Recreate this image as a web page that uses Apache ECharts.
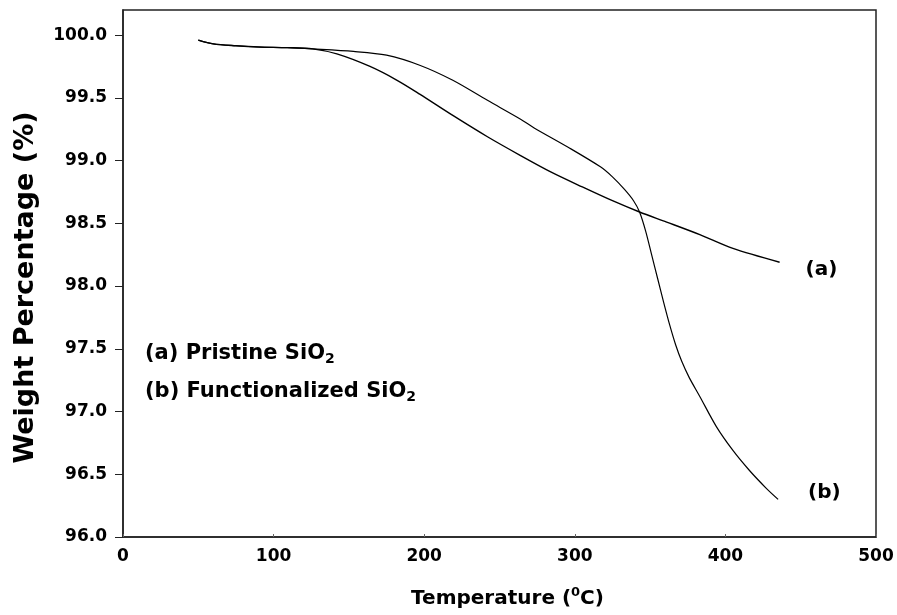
<!DOCTYPE html>
<html>
<head>
    <meta charset="utf-8">
    <title>TGA SiO2</title>
    <script src="https://cdn.jsdelivr.net/npm/echarts@6/dist/echarts.min.js"></script>
</head>
<body style="margin:0">
    <div id="main" style="width: 897px; height: 615px;"></div>

    <script>
        // (a) Pristine SiO2
        var tempA = [50, 60, 75, 90, 109, 126, 142, 164, 182, 197, 219, 242, 264, 284, 305, 325, 343, 361, 383, 405, 436];
        var weightA = [99.96, 99.93, 99.915, 99.905, 99.90, 99.89, 99.85, 99.75, 99.64, 99.53, 99.36, 99.19, 99.04, 98.91, 98.79, 98.68, 98.59, 98.51, 98.41, 98.30, 98.19];

        // (b) Functionalized SiO2
        var tempB = [50, 60, 75, 90, 109, 126, 153, 175, 197, 219, 242, 264, 273, 295, 317, 325, 333, 339, 343, 347, 351, 355, 359, 363, 367, 371, 376, 383, 394, 405, 416, 427, 435];
        var weightB = [99.96, 99.93, 99.915, 99.905, 99.90, 99.89, 99.87, 99.84, 99.76, 99.64, 99.48, 99.33, 99.26, 99.11, 98.95, 98.87, 98.77, 98.68, 98.59, 98.44, 98.25, 98.06, 97.87, 97.69, 97.53, 97.40, 97.27, 97.12, 96.88, 96.69, 96.53, 96.39, 96.30];

        // 刻度
        var yTicks = [96.0, 96.5, 97.0, 97.5, 98.0, 98.5, 99.0, 99.5, 100.0];
        var xTicks = [0, 100, 200, 300, 400, 500];

        var font = 'DejaVu Sans';

        function pairs(xs, ys) {
            var out = [];
            for (var i = 0; i < xs.length; i++) {
                out.push([xs[i], ys[i]]);
            }
            return out;
        }

        var myChart = echarts.init(document.getElementById('main'));

        var option = {
            animation: false,
            backgroundColor: '#fff',
            grid: {
                left: 123,
                right: 21,
                top: 10,
                bottom: 78,
                show: true,
                borderColor: '#222',
                borderWidth: 1.5
            },
            xAxis: {
                type: 'value',
                min: 0,
                max: 500,
                interval: 100,
                name: 'Temperature ({sup|0}C)',
                nameLocation: 'middle',
                nameGap: 49,
                nameTextStyle: {
                    fontFamily: font,
                    fontWeight: 'bold',
                    fontSize: 20,
                    color: '#000',
                    padding: [0, 0, 0, 16],
                    rich: {
                        sup: {
                            fontFamily: font,
                            fontWeight: 'bold',
                            fontSize: 13,
                            color: '#000',
                            padding: [0, 0, 12, 0]
                        }
                    }
                },
                splitLine: { show: false },
                axisLine: { lineStyle: { color: '#222', width: 1.5 } },
                axisTick: { show: true, inside: true, length: 3, lineStyle: { color: '#666' }, customValues: xTicks },
                axisLabel: {
                    customValues: xTicks,
                    margin: 11,
                    fontFamily: font,
                    fontWeight: 'bold',
                    fontSize: 17,
                    color: '#000'
                }
            },
            yAxis: {
                type: 'value',
                min: 96,
                max: 100.2,
                interval: 0.5,
                name: 'Weight Percentage (%)',
                nameLocation: 'middle',
                nameGap: 84,
                nameTextStyle: {
                    fontFamily: font,
                    fontWeight: 'bold',
                    fontSize: 27,
                    color: '#000',
                    padding: [0, 28, 0, 0]
                },
                splitLine: { show: false },
                axisLine: { lineStyle: { color: '#222', width: 1.5 } },
                axisTick: { show: true, length: 8, lineStyle: { color: '#222' }, customValues: yTicks },
                axisLabel: {
                    customValues: yTicks,
                    margin: 16,
                    fontFamily: font,
                    fontWeight: 'bold',
                    fontSize: 17,
                    color: '#000',
                    formatter: function (v) { return v.toFixed(1); }
                }
            },
            graphic: [
                {
                    type: 'text',
                    left: 145,
                    top: 343,
                    style: {
                        text: '(a) Pristine SiO{sub|2}',
                        font: 'bold 21px ' + font,
                        fill: '#000',
                        rich: {
                            sub: { font: 'bold 14px ' + font, fill: '#000', padding: [12, 0, 0, 0] }
                        }
                    }
                },
                {
                    type: 'text',
                    left: 145,
                    top: 381,
                    style: {
                        text: '(b) Functionalized SiO{sub|2}',
                        font: 'bold 21px ' + font,
                        fill: '#000',
                        rich: {
                            sub: { font: 'bold 14px ' + font, fill: '#000', padding: [12, 0, 0, 0] }
                        }
                    }
                }
            ],
            series: [
                {
                    name: '(a) Pristine SiO2',
                    type: 'line',
                    data: pairs(tempA, weightA),
                    smooth: 0.3,
                    showSymbol: false,
                    lineStyle: { color: '#000', width: 1.4 },
                    endLabel: {
                        show: true,
                        formatter: '(a)',
                        distance: 0,
                        offset: [26, 8],
                        fontFamily: font,
                        fontWeight: 'bold',
                        fontSize: 20,
                        color: '#000'
                    }
                },
                {
                    name: '(b) Functionalized SiO2',
                    type: 'line',
                    data: pairs(tempB, weightB),
                    smooth: 0.3,
                    showSymbol: false,
                    lineStyle: { color: '#000', width: 1.2 },
                    endLabel: {
                        show: true,
                        formatter: '(b)',
                        distance: 0,
                        offset: [30, -7],
                        fontFamily: font,
                        fontWeight: 'bold',
                        fontSize: 20,
                        color: '#000'
                    }
                }
            ]
        };

        myChart.setOption(option);
    </script>
</body>
</html>
